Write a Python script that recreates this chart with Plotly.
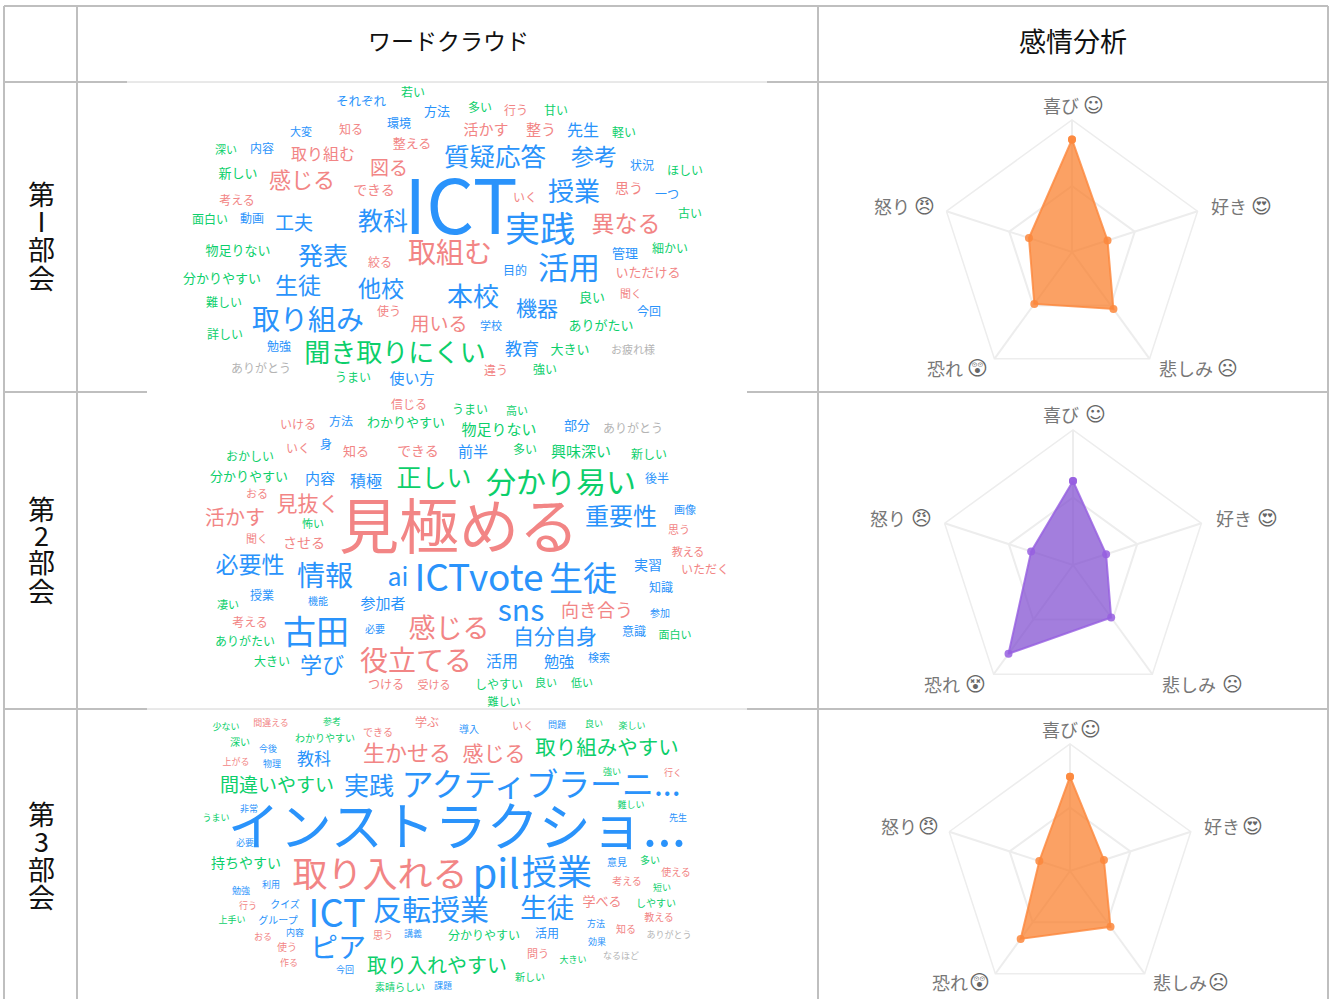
import plotly.graph_objects as go

W, H = 1330, 999
FONT = "Noto Sans CJK JP, DejaVu Sans, sans-serif"
TONE = {"b": "#2A93FB", "r": "#F28585", "g": "#0CCF6B", "k": "#B4B4B4"}

# ---- data ----
HEADERS = ["ワードクラウド", "感情分析"]
ROW_TITLES = [["第", "Ⅰ", "部", "会"], ["第", "2", "部", "会"], ["第", "3", "部", "会"]]
EMOTIONS = ["喜び", "好き", "悲しみ", "恐れ", "怒り"]
SCORES_1 = [0.853, 0.283, 0.534, 0.486, 0.343]
SCORES_2 = [0.622, 0.258, 0.481, 0.813, 0.326]
SCORES_3 = [0.743, 0.281, 0.543, 0.661, 0.254]
FACES_1 = ["☺", "😍", "☹", "😲", "😠"]
FACES_2 = ["☺", "😍", "☹", "😵", "😠"]
FACES_3 = ["☺", "😍", "☹", "😲", "😠"]

WORDS_1 = ["若い","それぞれ","方法","多い","行う","甘い","環境","大変","知る","活かす","整う","先生","軽い","整える","深い","内容","取り組む","質疑応答","参考","状況","ほしい","図る","新しい","感じる","できる","授業","思う","一つ","考える","いく","古い","ICT","面白い","動画","工夫","教科","実践","異なる",
"物足りない","発表","取組む","絞る","管理","細かい","活用","目的","いただける","分かりやすい","生徒","他校","本校","良い","聞く","機器","難しい","使う","取り組み","今回","用いる","学校","ありがたい","詳しい","勉強","聞き取りにくい","教育","大きい","お疲れ様","ありがとう","うまい","使い方","違う","強い"]
WORDS_2 = ["信じる","うまい","高い","いける","方法","わかりやすい","物足りない","部分","ありがとう","いく","身","知る","できる","前半","多い","興味深い","新しい","おかしい","分かりやすい","内容","積極","正しい","分かり易い","後半","おる","見抜く","活かす","怖い","聞く","させる","見極める","重要性","画像","思う","教える",
"必要性","情報","ai","ICTvote","生徒","実習","いただく","知識","授業","機能","凄い","参加者","sns","向き合う","参加","考える","古田","必要","感じる","自分自身","意識","面白い","ありがたい","大きい","学び","役立てる","活用","勉強","検索","つける","受ける","しやすい","良い","低い","難しい"]
WORDS_3 = ["少ない","間違える","参考","できる","学ぶ","導入","いく","問題","良い","楽しい","深い","今後","わかりやすい","生かせる","感じる","取り組みやすい","上がる","物理","教科","間違いやすい","実践","アクティブラーニ...","強い","行く","難しい","非常","うまい","先生","必要","インストラクショ...",
"持ちやすい","取り入れる","pil","授業","意見","多い","使える","考える","短い","利用","勉強","クイズ","行う","ICT","反転授業","生徒","学べる","しやすい","教える","グループ","上手い","方法","知る","内容","思う","講義","分かりやすい","活用","ありがとう","おる","使う","ピア","効果","問う","なるほど","作る","大きい","取り入れやすい","今回","新しい","素晴らしい","課題"]

# ---- placement of the words (x, y, size, tone), same order as the word lists ----
PLACE_1 = [(413,92,12,"g"),(361,101,12.5,"b"),(437,110,13,"b"),(480,107,12,"g"),(516,110,12,"r"),(556,110,12,"g"),(399,123,12,"b"),(301,131,11,"b"),(351,129,12,"r"),(486,129,15,"r"),(541,129,15,"r"),(583,129,16,"b"),(624,132,12,"g"),(412,142,13,"r"),(226,149,11,"g"),(262,148,12,"b"),(323,153,16,"r"),(495,156,25.5,"b"),(594,156,23,"b"),(642,165,12,"b"),(685,170,12,"g"),(389,167,19,"r"),(238,172,13,"g"),(302,179,22,"r"),(374,189,14,"r"),(574,191,26,"b"),(629,187,14,"r"),(667,194,12,"b"),(237,200,12,"r"),(525,197,12,"r"),(690,213,12,"g"),(461,207,75,"b"),(210,219,12,"g"),(252,218,12,"b"),(294,222,19,"b"),(383,220,25,"b"),(540,229,35,"b"),(626,223,23,"r"),
(238,249,13,"g"),(323,255,25,"b"),(450,252,28,"r"),(380,262,12,"r"),(625,252,13,"b"),(670,248,12,"g"),(569,267,31,"b"),(515,270,12,"b"),(648,271,13,"r"),(222,277,13,"g"),(298,285,23,"b"),(381,288,23,"b"),(473,296,26,"b"),(592,296,13,"g"),(631,293,11,"r"),(537,308,21,"b"),(224,302,12,"g"),(389,311,12,"r"),(308,319,28,"b"),(649,311,12,"b"),(439,323,19,"r"),(491,325,11,"b"),(601,324,13,"g"),(225,334,12,"g"),(279,346,12,"b"),(395,352,26,"g"),(522,348,17,"b"),(570,348,13,"g"),(633,349,11,"k"),(261,368,12,"k"),(353,377,12,"g"),(412,378,15,"b"),(496,370,12,"r"),(545,369,12,"g")]
PLACE_2 = [(409,404,12,"r"),(470,409,12,"g"),(517,410,11,"g"),(298,424,12,"r"),(341,421,12,"b"),(406,421,13,"g"),(499,429,15,"g"),(577,424,13,"b"),(633,428,12,"k"),(298,448,12,"r"),(326,444,12,"b"),(356,450,13,"r"),(418,450,14,"r"),(473,451,15,"b"),(525,449,12,"g"),(581,451,15,"g"),(649,454,12,"g"),(250,456,12,"g"),(249,475,13,"g"),(320,478,15,"b"),(366,480,16,"b"),(434,477,25,"g"),(561,481,30,"g"),(657,478,12,"b"),(257,493,11,"r"),(308,503,21,"r"),(235,517,20,"r"),(313,523,11,"g"),(257,538,11,"r"),(304,542,14,"r"),(459,527,60,"r"),(621,516,24,"b"),(685,509,11,"b"),(679,529,11,"r"),(688,551,11,"r"),
(250,564,23,"b"),(325,575,28,"b"),(398,576,25,"b"),(479,577,37,"b"),(583,578,34,"b"),(648,564,14,"b"),(705,569,12,"r"),(661,587,12,"b"),(262,595,12,"b"),(318,600,10,"b"),(228,604,11,"g"),(383,603,15,"b"),(521,609,30,"b"),(597,610,18,"r"),(660,612,10,"b"),(250,622,12,"r"),(316,631,33,"b"),(375,628,10,"b"),(449,628,27,"r"),(555,636,21,"b"),(634,631,12,"b"),(675,634,11,"g"),(245,641,12,"g"),(272,661,12,"g"),(322,664,22,"b"),(416,660,28,"r"),(502,660,16,"b"),(559,661,15,"b"),(599,657,11,"b"),(386,684,12,"r"),(434,684,11,"r"),(499,684,12,"g"),(546,682,11,"g"),(582,682,11,"g"),(504,701,11,"g")]
PLACE_3 = [(226,726,9,"g"),(271,722,9,"r"),(332,721,9,"g"),(378,731,10,"r"),(427,722,12,"r"),(469,728,10,"b"),(523,725,11,"r"),(557,724,9,"b"),(594,723,9,"g"),(632,725,9,"g"),(240,741,10,"g"),(268,748,9,"b"),(325,737,10,"g"),(407,752,22,"r"),(494,753,21,"r"),(607,747,20.5,"g"),(236,761,9,"r"),(272,763,9,"b"),(314,758,17,"b"),(277,784,19,"g"),(369,785,25,"b"),(541,784,32,"b"),(612,771,9,"g"),(673,772,9,"r"),(631,804,9,"g"),(249,808,9,"b"),(216,817,9,"g"),(678,817,9,"b"),(245,842,9,"b"),(457,827,52,"b"),
(246,862,14,"g"),(380,874,35,"r"),(496,873,40,"b"),(557,872,35,"b"),(617,861,10,"b"),(650,859,10,"g"),(676,871,10,"r"),(627,880,10,"r"),(662,887,9,"g"),(271,884,9,"b"),(241,890,9,"b"),(285,903,10,"b"),(248,905,9,"r"),(337,913,38,"b"),(431,910,29,"b"),(547,908,27,"b"),(602,900,13,"r"),(656,902,10,"g"),(659,916,10,"r"),(278,919,10,"b"),(232,919,9,"g"),(596,923,9,"b"),(626,928,10,"r"),(295,932,9,"b"),(383,934,10,"r"),(413,933,9,"b"),(484,935,12,"g"),(547,933,12,"b"),(669,934,9,"k"),(263,936,9,"r"),(287,946,10,"r"),(338,947,28,"b"),(597,941,9,"b"),(538,953,11,"r"),(621,955,9,"k"),(289,962,9,"r"),(573,959,9,"g"),(437,965,20,"g"),(345,969,9,"b"),(530,976,10,"g"),(400,986,10,"g"),(443,985,9,"b")]

fig = go.Figure()

# ---- word clouds, on a pixel-scaled cartesian axis pair ----
for words, place in ((WORDS_1, PLACE_1), (WORDS_2, PLACE_2), (WORDS_3, PLACE_3)):
    assert len(words) == len(place)
    fig.add_trace(go.Scatter(
        x=[p[0] for p in place], y=[p[1] + 1 + 0.1 * p[2] for p in place], text=words, mode="text",
        textposition="middle center", hoverinfo="text", showlegend=False,
        textfont=dict(family=FONT, size=[p[2] for p in place],
                      color=[TONE[p[3]] for p in place])))

# ---- table rules ----
GRID = "#BFBFBF"
rules = [
    (4, 6, 4, 999, 2), (77, 6, 77, 999, 2), (818, 6, 818, 999, 2), (1328, 6, 1328, 999, 2),
    (4, 6, 1328, 6, 2), (4, 82, 127, 82, 2), (767, 82, 1328, 82, 2), (4, 392, 147, 392, 2),
    (747, 392, 1328, 392, 2), (4, 709, 147, 709, 2), (747, 709, 1328, 709, 2),
]
shapes = [dict(type="line", xref="x", yref="y", x0=a, y0=b, x1=c, y1=d,
               line=dict(color=GRID, width=w), layer="below") for a, b, c, d, w in rules]
for x0, x1, y in ((127, 767, 82), (147, 747, 709)):
    shapes.append(dict(type="line", xref="x", yref="y", x0=x0, y0=y, x1=x1, y1=y,
                       line=dict(color="#D2D2D2", width=1), layer="below"))

# ---- text cells ----
annos = []
def put(x, y, text, size, color="#111111", anchor="center", family=FONT):
    annos.append(dict(x=x, y=y, xref="x", yref="y", text=text, showarrow=False, xanchor=anchor,
                      yanchor="middle", font=dict(family=family, size=size, color=color)))

put(448, 40, HEADERS[0], 23)
put(1073, 40, HEADERS[1], 27)
ROW_Y = [(193, 220, 248, 277), (508, 534, 561, 590), (813, 840, 868, 896)]
for chars, ys in zip(ROW_TITLES, ROW_Y):
    for ch, y in zip(chars, ys):
        put(41, y, ch, 27)

# ---- radar charts ----
RADARS = [
    dict(cx=1072, cy=252, r=132, v=SCORES_1, faces=FACES_1, fill="250,125,40", edge="252,135,60",
         lab=[(1041,105),(1209,206),(1157,368),(925,368),(872,206)],
         face_x=[1093,1261,1227,977,924]),
    dict(cx=1073, cy=565, r=135, v=SCORES_2, faces=FACES_2, fill="128,76,208", edge="150,95,225",
         lab=[(1041,414),(1214,518),(1160,684),(922,684),(868,518)],
         face_x=[1095,1267,1232,975,921]),
    dict(cx=1070, cy=871, r=127, v=SCORES_3, faces=FACES_3, fill="250,125,40", edge="252,135,60",
         lab=[(1040,729),(1202,826),(1151,982),(930,982),(879,826)],
         face_x=[1090,1252,1218,979,928]),
]
layout_polar = {}
for i, rd in enumerate(RADARS, start=1):
    name = "polar" if i == 1 else f"polar{i}"
    theta = EMOTIONS + EMOTIONS[:1]
    vals = rd["v"] + rd["v"][:1]
    fig.add_trace(go.Scatterpolar(
        r=vals, theta=theta, subplot=name, mode="lines+markers", fill="toself",
        fillcolor=f"rgba({rd['fill']},0.72)", showlegend=False,
        line=dict(color=f"rgba({rd['edge']},0.8)", width=2),
        marker=dict(size=8, color=f"rgba({rd['edge']},0.85)")))
    layout_polar[name] = dict(
        domain=dict(x=[(rd["cx"] - rd["r"]) / W, (rd["cx"] + rd["r"]) / W],
                    y=[1 - (rd["cy"] + rd["r"]) / H, 1 - (rd["cy"] - rd["r"]) / H]),
        gridshape="linear", bgcolor="rgba(0,0,0,0)",
        radialaxis=dict(range=[0, 1], tickvals=[0.5, 1], showticklabels=False, ticks="",
                        showline=False, gridcolor="#EDEDED", gridwidth=1.5),
        angularaxis=dict(rotation=90, direction="clockwise", categoryorder="array",
                         categoryarray=EMOTIONS, showticklabels=False, ticks="",
                         showline=True, linecolor="#EDEDED", linewidth=1.5,
                         gridcolor="#EDEDED", gridwidth=1.5))
    for em, face, (x, y), fx in zip(EMOTIONS, rd["faces"], rd["lab"], rd["face_x"]):
        put(x, y, em, 18, "#777777", "left")
        put(fx, y, f"<b>{face}</b>", 20, "#666666", "center", "DejaVu Sans")

fig.update_layout(
    width=W, height=H, margin=dict(l=0, r=0, t=0, b=0),
    paper_bgcolor="white", plot_bgcolor="white",
    xaxis=dict(range=[0, W], visible=False, fixedrange=True),
    yaxis=dict(range=[H, 0], visible=False, fixedrange=True),
    shapes=shapes, annotations=annos, **layout_polar)

fig.write_html("out.html", config={"displayModeBar": False},
               post_script="document.body.style.margin='0';document.body.style.overflow='hidden';")
